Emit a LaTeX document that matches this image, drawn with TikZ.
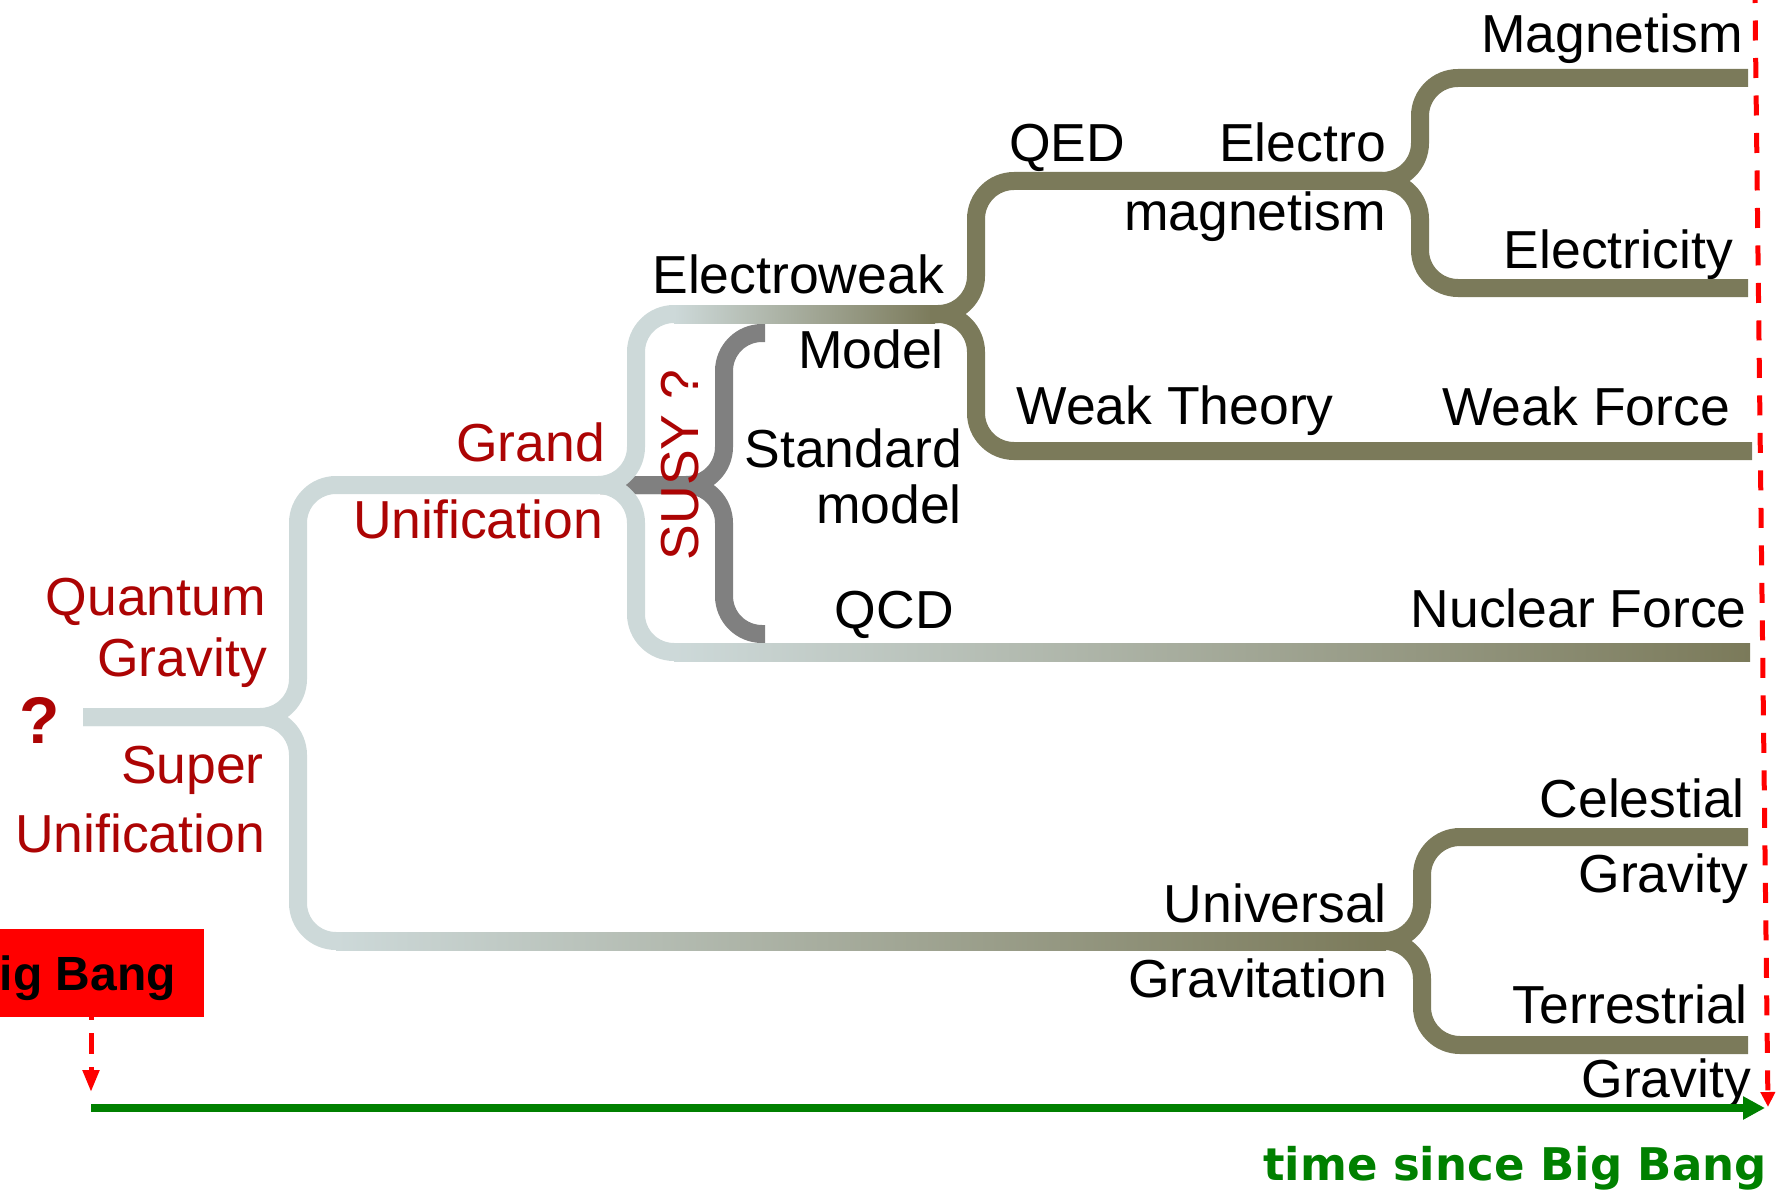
\documentclass[tikz,border=0pt]{standalone}
\usepackage{fontspec}
\setmainfont{Liberation Sans}
\newfontfamily\dejavu{DejaVu Sans}
\usetikzlibrary{arrows.meta}
\definecolor{pale}{RGB}{205,217,217}
\definecolor{olv}{RGB}{123,122,90}
\definecolor{susy}{RGB}{128,128,128}
\definecolor{dred}{RGB}{172,4,4}
\definecolor{tgreen}{RGB}{0,128,0}
\begin{document}
\begin{tikzpicture}[x=1pt,y=-1pt,
  branch/.style={line width=18pt, rounded corners=38pt},
  lbl/.style={inner sep=0pt, anchor=base east, font=\fontsize{53.5}{60}\selectfont},
  rlbl/.style={lbl, text=dred},
  reddash/.style={red, line width=5pt},
]
\useasboundingbox (0,0) rectangle (1777,1193);
\clip (0,0) rectangle (1777,1193);

% SUSY bracket (gray)
\draw[branch, susy] (600,485) -- (724,485) -- (724,333) -- (765,333);
\draw[branch, susy] (600,485) -- (724,485) -- (724,634) -- (765,634);

% pale branches
\draw[branch, pale] (83,717) -- (298,717) -- (298,485) -- (636,485) -- (636,314) -- (680,314);
\draw[branch, pale] (83,717) -- (298,717) -- (298,941) -- (345,941);
\draw[branch, pale] (590,485) -- (636,485) -- (636,652) -- (680,652);

% shaded straight runs
\shade[left color=pale, right color=olv] (674,305) rectangle (935,323);
\shade[left color=pale, right color=olv] (674,643) rectangle (1750,661);
\shade[left color=pale, right color=olv] (336,932) rectangle (1386,950);

% olive branches
\draw[branch, olv] (930,314) -- (976,314) -- (976,181) -- (1420,181) -- (1420,78) -- (1748,78);
\draw[branch, olv] (1370,181) -- (1420,181) -- (1420,288) -- (1748,288);
\draw[branch, olv] (930,314) -- (976,314) -- (976,451) -- (1752,451);
\draw[branch, olv] (1380,941) -- (1422,941) -- (1422,837) -- (1748,837);
\draw[branch, olv] (1380,941) -- (1422,941) -- (1422,1045) -- (1748,1045);

% labels
\node[lbl] (magn) at (1743,53) {Magnetism};
\node[lbl] (electro) at (1386,162) {Electro};
\node[lbl, anchor=base west] (qed) at (1009,162) {QED};
\node[lbl] (magn2) at (1386,230) {magnetism};
\node[lbl] (elec) at (1733,268) {Electricity};
\node[lbl] (ew) at (944,293) {Electroweak};
\node[lbl] (model) at (944,368) {Model};
\node[lbl] (std) at (962,467) {Standard};
\node[lbl] (model2) at (962,523) {model};
\node[lbl] (qcd) at (954,628) {QCD};
\node[lbl] (wth) at (1334,424) {Weak Theory};
\node[lbl] (wf) at (1730,425) {Weak Force};
\node[lbl] (nf) at (1747,627) {Nuclear Force};
\node[rlbl] (grand) at (605,461) {Grand};
\node[rlbl] (gunif) at (603,538) {Unification};
\node[rlbl] (qg1) at (266,615) {Quantum};
\node[rlbl] (qg2) at (267,676) {Gravity};
\node[rlbl] (su1) at (264,783) {Super};
\node[rlbl] (su2) at (265,852) {Unification};
\node[lbl] (univ) at (1387,922) {Universal};
\node[lbl] (grav) at (1387,997) {Gravitation};
\node[lbl] (cel) at (1745,817) {Celestial};
\node[lbl] (cg) at (1748,892) {Gravity};
\node[lbl] (ter) at (1748,1023) {Terrestrial};
\node[lbl] (tg) at (1751,1097) {Gravity};
\node[rlbl, rotate=90, anchor=base] (susyl) at (698,465) {SUSY ?};
\node[inner sep=0pt, anchor=base, text=dred, font=\fontsize{66}{70}\selectfont\bfseries] (q) at (40,743) {?};

% Big Bang marker
\coordinate (bbtop) at (91,1017);
\coordinate (bbtip) at (91,1092);
\draw[reddash, dash pattern=on 21pt off 13pt, dash phase=18pt, -{Triangle[length=22pt,width=16pt]}] (bbtop) -- (bbtip);
\node[fill=red, anchor=east, minimum height=88pt, inner xsep=28pt, inner ysep=0pt,
      text height=35pt, text depth=0pt, font=\fontsize{48}{50}\selectfont\bfseries] (bb) at (204,973) {Big Bang};

% time axis
\coordinate (gstart) at (91,1108);
\coordinate (gend) at (1765,1108);
\draw[tgreen, line width=8pt, -{Triangle[length=22pt,width=22pt]}] (gstart) -- (gend);
\coordinate (rtop) at (1755,0);
\coordinate (rtip) at (1768,1107);
\draw[reddash, dash pattern=on 20pt off 17.5pt, dash phase=17pt, -{Triangle[length=15pt,width=14pt]}] (rtop) -- (rtip);
\node[inner sep=0pt, anchor=base east, text=tgreen, font=\dejavu\bfseries\fontsize{45}{48}\selectfont] (time) at (1767,1180) {time since Big Bang};
\end{tikzpicture}
\end{document}
